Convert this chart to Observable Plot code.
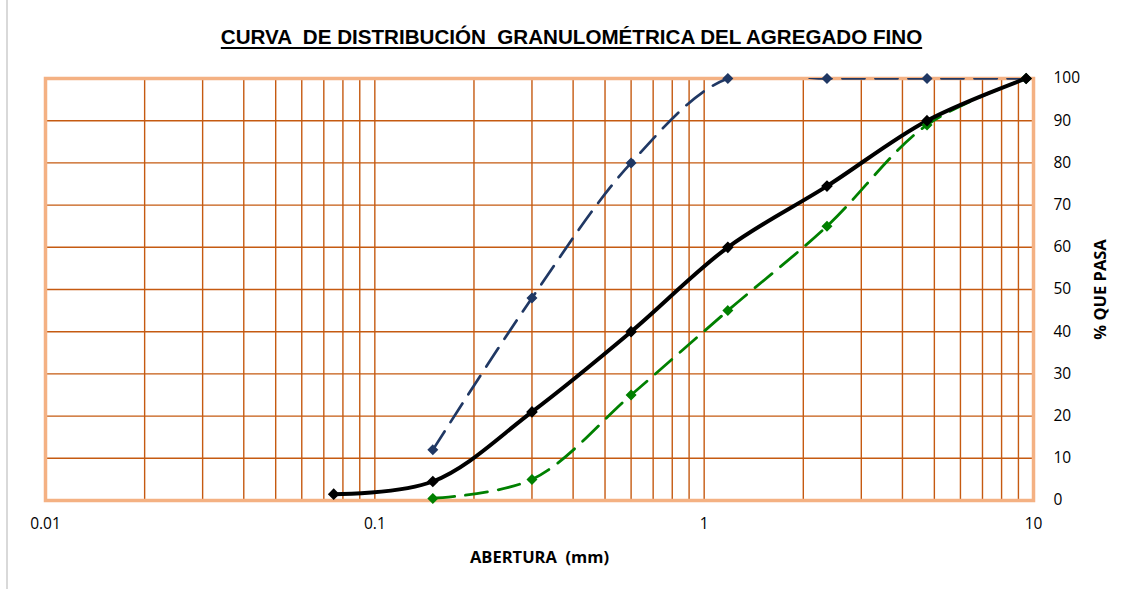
<!DOCTYPE html>
<html>
<head>
<meta charset="utf-8">
<script src="https://cdn.jsdelivr.net/npm/d3@7"></script>
<script src="https://cdn.jsdelivr.net/npm/@observablehq/plot@0.6"></script>
<style>
  html, body { margin: 0; padding: 0; background: #fff; }
  #wrap { position: relative; width: 1129px; height: 589px; overflow: hidden; background: #fff; }
  #frame { position: absolute; left: 6px; top: 0; width: 2px; height: 589px; background: #d9d9d9; pointer-events: none; }
  #title { position: absolute; left: 0; top: 0; width: 1129px; height: 60px; display: flex; align-items: center; justify-content: center; padding-top: 14px; padding-left: 14px; box-sizing: border-box;
    font-family: "Liberation Sans Narrow", "Liberation Sans", sans-serif; font-weight: bold; font-size: 20.6px; text-decoration: underline; text-decoration-thickness: 1.5px; text-underline-offset: 3px; color: #000; white-space: pre; }
  #chart { position: absolute; left: 0; top: 60px; }
  #chart svg [aria-label="x-axis label"] text, #chart svg [aria-label="y-axis label"] text { font-weight: bold; white-space: pre; font-size: 16.5px; }
</style>
</head>
<body>
<div id="wrap">
  <div id="title">CURVA  DE DISTRIBUCIÓN  GRANULOMÉTRICA DEL AGREGADO FINO</div>
  <div id="chart"></div>
  <div id="frame"></div>
</div>
<script>
// Sieve openings (mm)
const aberturas = [0.075, 0.15, 0.3, 0.6, 1.18, 2.36, 4.75, 9.5];
// % passing – sample curve
const muestra = [1.5, 4.5, 21, 40, 60, 74.5, 90, 100];
// Limits (openings 0.15 .. 9.5)
const aberturasLim = [0.15, 0.3, 0.6, 1.18, 2.36, 4.75, 9.5];
const limiteSuperior = [12, 48, 80, 100, 100, 100, 100];
const limiteInferior = [0.5, 5, 25, 45, 65, 89, 100];
// Axis ticks
const xTicks = [0.01, 0.1, 1, 10];
const yTicks = [0, 10, 20, 30, 40, 50, 60, 70, 80, 90, 100];
const xGrid = [0.01, 0.1, 1].flatMap(d => [2,3,4,5,6,7,8,9].map(k => +(k * d).toPrecision(3))).concat([0.1, 1]);

const dMuestra = aberturas.map((a, i) => ({a, p: muestra[i]}));
const dSup = aberturasLim.map((a, i) => ({a, p: limiteSuperior[i]}));
const dInf = aberturasLim.map((a, i) => ({a, p: limiteInferior[i]}));

const grid = "#c55a11";
const navy = "#203864";
const green = "#008000";

const chart = Plot.plot({
  width: 1129,
  height: 529,
  marginLeft: 45,
  marginRight: 96,
  marginTop: 18,
  marginBottom: 89,
  style: { fontFamily: "'Open Sans', 'Liberation Sans', sans-serif", fontSize: "15.5px", color: "#000", background: "#fff" },
  x: { type: "log", domain: [0.01, 10] },
  y: { domain: [0, 100] },
  marks: [
    Plot.ruleX(xGrid, { stroke: grid, strokeWidth: 1.4 }),
    Plot.ruleY(yTicks.filter(d => d > 0 && d < 100), { stroke: grid, strokeWidth: 1.4 }),
    Plot.frame({ stroke: "#f4b183", strokeWidth: 3.5 }),
    Plot.axisX({ ticks: xTicks, tickFormat: d => String(d), tickSize: 0, tickPadding: 17, label: "ABERTURA  (mm)", labelAnchor: "center", labelArrow: "none", labelOffset: 62 }),
    Plot.axisY({ anchor: "right", ticks: yTicks, tickSize: 0, tickPadding: 20, label: "% QUE PASA", labelAnchor: "center", labelArrow: "none", labelOffset: 72 }),
    Plot.line(dSup, { x: "a", y: "p", stroke: navy, strokeWidth: 2.7, strokeDasharray: "22,11", curve: "catmull-rom", clip: true }),
    Plot.line(dInf, { x: "a", y: "p", stroke: green, strokeWidth: 2.8, strokeDasharray: "22,11", curve: "catmull-rom", clip: true }),
    Plot.line(dMuestra, { x: "a", y: "p", stroke: "#000", strokeWidth: 4, curve: "catmull-rom", clip: true }),
    Plot.dot(dSup, { x: "a", y: "p", symbol: "diamond2", r: 4, fill: navy, stroke: navy }),
    Plot.dot(dInf, { x: "a", y: "p", symbol: "diamond2", r: 4, fill: green, stroke: green }),
    Plot.dot(dMuestra, { x: "a", y: "p", symbol: "diamond2", r: 4.3, fill: "#000", stroke: "#000" })
  ]
});
document.getElementById("chart").appendChild(chart);
</script>
</body>
</html>
